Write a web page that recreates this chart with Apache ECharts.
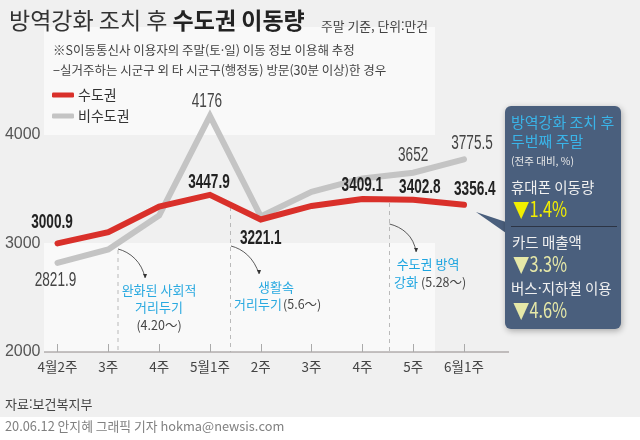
<!DOCTYPE html>
<html lang="ko">
  <head>
    <meta charset="UTF-8" />
    <title>방역강화 조치 후 수도권 이동량</title>
    <script src="https://cdn.jsdelivr.net/npm/echarts@6/dist/echarts.min.js"></script>
    <style>
      html, body { margin: 0; padding: 0; background: #f0f0f0; }
      #app { width: 640px; height: 440px; }
    </style>
  </head>
  <body>
    <div id="app"></div>
    <script>
      const KR = '"Noto Sans CJK KR", sans-serif';
      const NUM = '"Liberation Sans", sans-serif';

      const weeks = ["4월2주", "3주", "4주", "5월1주", "2주", "3주", "4주", "5주", "6월1주"];
      const capitalArea = [3000.9, 3104, 3341, 3447.9, 3221.1, 3346, 3409.1, 3402.8, 3356.4];
      const nonCapitalArea = [2821.9, 2945, 3258, 4176, 3250, 3477, 3600, 3652, 3775.5];
      const capitalLabelled = [0, 3, 4, 6, 7, 8];
      const nonCapitalLabelled = [0, 3, 7, 8];
      const capitalOffsets = { 0: [-5.5, -20.5], 3: [-1, -12], 4: [0, 18.6], 6: [0, -14], 7: [6.7, -12.8], 8: [10.8, -15.8] };
      const nonCapitalOffsets = { 0: [-2, 18], 3: [-3, -14], 7: [0, -17], 8: [8, -15.4] };

      // 숫자 라벨은 좁은 글꼴이 없어서 가로로 눌러서 그린다
      function labelSeries(name, values, labelled, offsets, font, fill) {
        return {
          name, type: "custom", z: 5, silent: true, clip: false,
          data: labelled.map((i) => [i, values[i]]),
          encode: { x: 0, y: 1 },
          renderItem(params, api) {
            const i = api.value(0);
            const [px, py] = api.coord([i, api.value(1)]);
            return {
              type: "text", x: px + offsets[i][0], y: py + offsets[i][1], scaleX: 0.68,
              style: { text: String(api.value(1)), font, fill, align: "center", verticalAlign: "middle" },
            };
          },
        };
      }

      function panelText(x, y, text, size, fill, scaleX) {
        return { type: "text", z: 20, x, y, scaleX: scaleX || 1, style: { text, fill, font: `${size}px ${KR}`, verticalAlign: "middle" } };
      }

      function plainText(x, y, text, size, fill, align) {
        return { type: "text", z: 5, style: { x, y, text, fill, font: `${size}px ${KR}`, align: align || "left", verticalAlign: "middle" } };
      }

      function note(lineX, fromY, arrowPath) {
        return [
          { type: "line", z: 1, shape: { x1: lineX, y1: fromY, x2: lineX, y2: 352 }, style: { stroke: "#aaa", lineWidth: 0.8, lineDash: [4, 4] } },
          { type: "bezierCurve", z: 1, shape: arrowPath, style: { stroke: "#333", lineWidth: 0.8, fill: null } },
          { type: "polygon", z: 1, shape: { points: [[arrowPath.x2 - 2, arrowPath.y2 - 4], [arrowPath.x2 + 2, arrowPath.y2 - 4], [arrowPath.x2 + 0.5, arrowPath.y2]] }, style: { fill: "#333" } },
        ];
      }

      const chart = echarts.init(document.getElementById("app"));

      chart.setOption({
        backgroundColor: "#f0f0f0",
        animation: false,
        textStyle: { fontFamily: KR },
        title: {
          left: 9, top: 9, padding: 0,
          text: "{a|방역강화 조치 후 }{b|수도권 이동량}",
          textStyle: {
            rich: {
              a: { fontSize: 23, color: "#333", fontFamily: KR, fontWeight: "normal" },
              b: { fontSize: 23, color: "#222", fontFamily: KR, fontWeight: "bold" },
            },
          },
        },
        legend: {
          left: 52, top: 88, orient: "vertical", itemWidth: 22, itemHeight: 5, itemGap: 7, icon: "roundRect",
          padding: 0, textStyle: { fontSize: 14, color: "#333", fontFamily: KR, padding: [0, 0, 0, -1] },
          data: ["수도권", "비수도권"],
        },
        grid: { left: 57.5, right: 176, top: 26.5, bottom: 88 },
        xAxis: {
          type: "category", boundaryGap: false, data: weeks,
          axisLine: { show: false },
          axisTick: { show: true, inside: true, length: 8, lineStyle: { color: "#aaa" }, alignWithLabel: true },
          axisLabel: { margin: 8, fontSize: 13.5, color: "#444", fontFamily: KR, interval: 0, hideOverlap: false },
        },
        yAxis: {
          type: "value", min: 2000, max: 5000, interval: 1000,
          axisLine: { show: false }, axisTick: { show: false }, splitLine: { show: false },
          axisLabel: {
            margin: 17, fontSize: 16, color: "#555", fontFamily: NUM,
            formatter: (v) => (v === 5000 ? "" : String(v)),
          },
        },
        series: [
          {
            name: "비수도권", type: "line", z: 2, symbol: "none", color: "#c4c4c4",
            lineStyle: { width: 6, color: "#c4c4c4", cap: "round", join: "miter" },
            data: nonCapitalArea,
          },
          {
            name: "수도권", type: "line", z: 3, symbol: "none", color: "#d9302a",
            lineStyle: { width: 6, color: "#d9302a", cap: "round", join: "miter" },
            data: capitalArea,
          },
          labelSeries("비수도권 값", nonCapitalArea, nonCapitalLabelled, nonCapitalOffsets, `20px ${NUM}`, "#444"),
          labelSeries("수도권 값", capitalArea, capitalLabelled, capitalOffsets, `bold 20px ${NUM}`, "#222"),
        ],
        graphic: [
          { type: "rect", z: -1, shape: { x: 44, y: 27, width: 391, height: 108 }, style: { fill: "#f9f9f9" } },
          { type: "rect", z: -1, shape: { x: 44, y: 243, width: 391, height: 109 }, style: { fill: "#f9f9f9" } },
          { type: "line", z: 0, shape: { x1: 44, y1: 352, x2: 509, y2: 352 }, style: { stroke: "#8f8888", lineWidth: 1 } },
          { type: "rect", z: 0, shape: { x: 0, y: 417, width: 640, height: 23 }, style: { fill: "#fff" } },
          ...note(118, 250, { x1: 118, y1: 249, cpx1: 130, cpy1: 252, cpx2: 142, cpy2: 262, x2: 145, y2: 278 }),
          ...note(230.5, 207, { x1: 231, y1: 246, cpx1: 243, cpy1: 249, cpx2: 254, cpy2: 258, x2: 259, y2: 274 }),
          ...note(389.5, 203, { x1: 389.5, y1: 224, cpx1: 402, cpy1: 227, cpx2: 414, cpy2: 236, x2: 416, y2: 252 }),
          plainText(321, 26, "주말 기준, 단위:만건", 12.8, "#444"),
          plainText(53, 50, "※S이동통신사 이용자의 주말(토·일) 이동 정보 이용해 추정", 12.5, "#444"),
          plainText(53, 70, "−실거주하는 시군구 외 타 시군구(행정동) 방문(30분 이상)한 경우", 12.5, "#444"),
          plainText(159, 290, "완화된 사회적", 13, "#29a9e0", "center"),
          plainText(159, 307, "거리두기", 13, "#29a9e0", "center"),
          plainText(159, 325, "(4.20～)", 12.5, "#444", "center"),
          plainText(276, 287, "생활속", 13, "#29a9e0", "center"),
          plainText(234, 304, "거리두기", 13, "#29a9e0"),
          plainText(283, 304, "(5.6～)", 12.5, "#444"),
          plainText(428, 264, "수도권 방역", 13, "#1ea5e0", "center"),
          plainText(394, 282, "강화", 13, "#1ea5e0"),
          plainText(421, 282, "(5.28～)", 12.5, "#444"),
          plainText(5, 404, "자료:보건복지부", 13, "#444"),
          plainText(5, 426, "20.06.12 안지혜 그래픽 기자 hokma@newsis.com", 12.8, "#808080"),
          { type: "polygon", z: 19, shape: { points: [[476, 212], [506, 222], [506, 233]] }, style: { fill: "#4a5f7d" } },
          { type: "rect", z: 19, shape: { x: 505, y: 106, width: 116, height: 223, r: 6 }, style: { fill: "#4a5f7d", shadowBlur: 6, shadowColor: "rgba(0,0,0,0.3)", shadowOffsetX: 1, shadowOffsetY: 2 } },
          panelText(511, 122, "방역강화 조치 후", 15, "#3ab4e8"),
          panelText(511, 141, "두번째 주말", 15, "#3ab4e8"),
          panelText(511, 161, "(전주 대비, %)", 10.5, "#e8e8e8"),
          panelText(511, 187, "휴대폰 이동량", 14.5, "#f0f0f0"),
          panelText(513, 209, "▼1.4%", 21, "#f2ee00", 0.78),
          { type: "line", z: 20, shape: { x1: 511, y1: 226.5, x2: 617, y2: 226.5 }, style: { stroke: "#2c3444", lineWidth: 1 } },
          panelText(512, 242, "카드 매출액", 14.5, "#f0f0f0"),
          panelText(513, 264, "▼3.3%", 21, "#e6e8a8", 0.78),
          panelText(511, 288, "버스·지하철 이용", 14.5, "#f0f0f0"),
          panelText(513, 310, "▼4.6%", 21, "#e6e8a8", 0.78),
        ],
      });
    </script>
  </body>
</html>
